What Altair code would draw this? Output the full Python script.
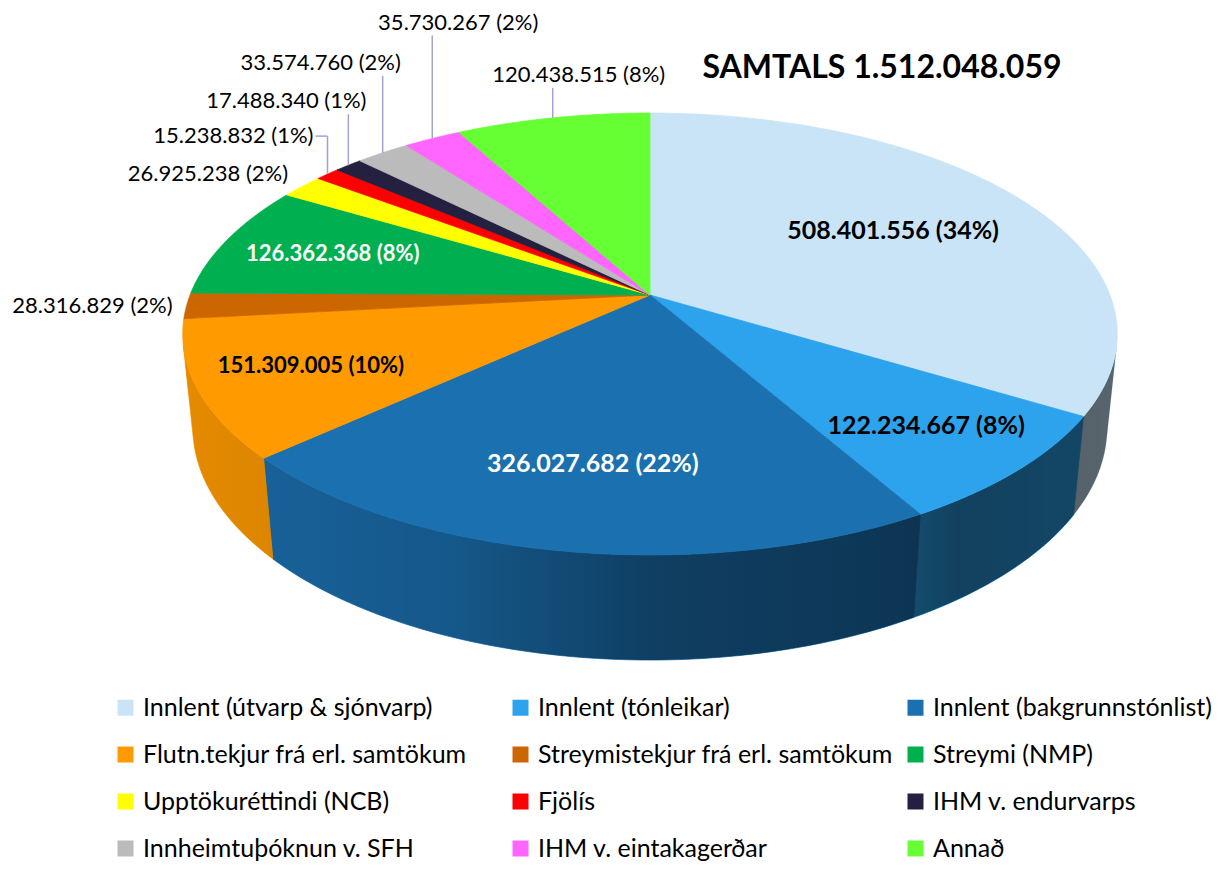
import math
import altair as alt
import pandas as pd

# ---------------- data ----------------
categories = [
    "Innlent (útvarp & sjónvarp)", "Innlent (tónleikar)", "Innlent (bakgrunnstónlist)",
    "Flutn.tekjur frá erl. samtökum", "Streymistekjur frá erl. samtökum", "Streymi (NMP)",
    "Upptökuréttindi (NCB)", "Fjölís", "IHM v. endurvarps", "Innheimtuþóknun v. SFH",
    "IHM v. eintakagerðar", "Annað",
]
values = [508401556, 122234667, 326027682, 151309005, 28316829, 126362368,
          26925238, 15238832, 17488340, 33574760, 35730267, 120438515]
colors = ["#C9E4F7", "#2CA3EC", "#1B70B0", "#FF9A00", "#CC6600", "#00B050",
          "#FFFF00", "#FF0000", "#24203F", "#BBBBBB", "#FF66FF", "#66FF33"]

total = sum(values)


def isl(n):
    return f"{n:,}".replace(",", ".")


labels = [f"{isl(v)} ({round(100 * v / total)}%)" for v in values]
title_text = f"SAMTALS {isl(total)}"

df = pd.DataFrame({"cat": categories, "value": values, "idx": list(range(len(values))), "label": labels})

# ---------------- 3D projection parameters ----------------
CX, CY, F = 650, 295, 2307          # screen centre of the pie and focal scale (px)
D, CE, SE = 5.016, 0.885, 0.4654     # camera distance, cos/sin of elevation
H = 0.232                            # pie thickness (radius units)
phi = math.acos(1 / (D * CE))
SIL0, SIL1 = math.pi - phi, math.pi + phi   # visible side silhouette angles
N = 90
M = 160

FONT = "Lato"
xs = alt.Scale(domain=[8, 1214], nice=False, zero=False)
ys = alt.Scale(domain=[8, 861], nice=False, zero=False, reverse=True)
cscale = alt.Scale(domain=categories, range=colors)

X_ENC = alt.X("px:Q", scale=xs, axis=None)
Y_ENC = alt.Y("py:Q", scale=ys, axis=None)

base = (
    alt.Chart(df)
    .transform_joinaggregate(total="sum(value)")
    .transform_window(cum="sum(value)", sort=[alt.SortField("idx")], frame=[None, 0])
    .transform_calculate(
        a0="2*PI*(datum.cum - datum.value)/datum.total",
        a1="2*PI*datum.cum/datum.total",
    )
)

legend = alt.Legend(
    title=None, orient="none", legendX=105, legendY=687, columns=3, direction="horizontal",
    symbolType="square", symbolSize=256, symbolStrokeWidth=0, labelFontSize=25,
    labelFont=FONT, labelColor="black", columnPadding=10, rowPadding=21, gridAlign="all",
    labelLimit=600, labelOffset=5, padding=0,
)

# ---------- side walls (per slice) ----------
sides = (
    base.transform_calculate(
        v0=f"max(datum.a0, {SIL0})", v1=f"min(datum.a1, {SIL1})"
    )
    .transform_filter("datum.v1 > datum.v0")
    .transform_calculate(ks=f"sequence(0, {2 * N + 2})")
    .transform_flatten(["ks"], as_=["k"])
    .transform_calculate(
        t=f"datum.k <= {N} ? datum.k/{N} : ({2 * N + 1} - datum.k)/{N}",
        hh=f"datum.k <= {N} ? 0 : {H}",
        a="datum.v0 + (datum.v1 - datum.v0)*datum.t",
        X="sin(datum.a)",
        Z="-cos(datum.a)",
        dd=f"{D} - datum.Z*{CE} + datum.hh*{SE}",
        px=f"{CX} + {F}*datum.X/datum.dd",
        py=f"{CY} + {F}*(datum.Z*{SE} + datum.hh*{CE})/datum.dd",
    )
    .mark_line(filled=True, interpolate="linear-closed", strokeWidth=0.8)
    .encode(
        x=X_ENC, y=Y_ENC, order="k:Q", detail="cat:N",
        color=alt.Color("cat:N", scale=cscale, legend=legend),
        stroke=alt.Stroke("cat:N", scale=cscale, legend=None),
    )
)

# ---------- shading of the side band ----------
shade = alt.LinearGradient(
    gradient="linear", x1=0, x2=1, y1=0, y2=0,
    stops=[
        alt.GradientStop(color="rgba(0,0,0,0.10)", offset=0),
        alt.GradientStop(color="rgba(0,0,0,0.13)", offset=0.08),
        alt.GradientStop(color="rgba(0,0,0,0.22)", offset=0.29),
        alt.GradientStop(color="rgba(0,0,0,0.44)", offset=0.5),
        alt.GradientStop(color="rgba(0,0,0,0.52)", offset=0.77),
        alt.GradientStop(color="rgba(0,0,0,0.60)", offset=0.83),
        alt.GradientStop(color="rgba(0,0,0,0.56)", offset=1),
    ],
)
overlay = (
    alt.Chart(alt.sequence(0, 2 * M + 2, as_="k"))
    .transform_calculate(
        t=f"datum.k <= {M} ? datum.k/{M} : ({2 * M + 1} - datum.k)/{M}",
        hh=f"datum.k <= {M} ? 0 : {H}",
        a=f"{SIL0} + ({SIL1} - {SIL0})*datum.t",
        X="sin(datum.a)",
        Z="-cos(datum.a)",
        dd=f"{D} - datum.Z*{CE} + datum.hh*{SE}",
        px=f"{CX} + {F}*datum.X/datum.dd",
        py=f"{CY} + {F}*(datum.Z*{SE} + datum.hh*{CE})/datum.dd",
    )
    .mark_line(filled=True, interpolate="linear-closed", fill=shade, strokeOpacity=0)
    .encode(x=X_ENC, y=Y_ENC, order="k:Q")
)

# ---------- top faces ----------
top = (
    base.transform_calculate(ks=f"sequence(0, {N + 2})")
    .transform_flatten(["ks"], as_=["k"])
    .transform_calculate(
        t=f"(datum.k - 1)/{N}",
        a="datum.a0 + (datum.a1 - datum.a0)*datum.t",
        r="datum.k == 0 ? 0 : 1",
        X="datum.r*sin(datum.a)",
        Z="-datum.r*cos(datum.a)",
        dd=f"{D} - datum.Z*{CE}",
        px=f"{CX} + {F}*datum.X/datum.dd",
        py=f"{CY} + {F}*datum.Z*{SE}/datum.dd",
    )
    .mark_line(filled=True, interpolate="linear-closed", strokeWidth=0.8)
    .encode(
        x=X_ENC, y=Y_ENC, order="k:Q", detail="cat:N",
        color=alt.Color("cat:N", scale=cscale, legend=legend),
        stroke=alt.Stroke("cat:N", scale=cscale, legend=None),
    )
)

# ---------- labels ----------
lab = base.transform_calculate(
    m="(datum.a0 + datum.a1)/2",
    X="sin(datum.m)",
    Z="-cos(datum.m)",
    dd=f"{D} - datum.Z*{CE}",
    ex=f"{CX} + {F}*datum.X/datum.dd",
    ey=f"{CY} + {F}*datum.Z*{SE}/datum.dd",
    outside="datum.value/datum.total < 0.05 || datum.idx == 11",
    rise="datum.idx == 11 ? 43 : (datum.idx >= 6 ? 12 + 26*(datum.idx - 6) : 0)",
    ly="datum.ey - datum.rise",
)

inside = lab.transform_filter("!datum.outside").transform_calculate(
    rf="datum.value/datum.total > 0.2 ? 0.66 : 0.75",
    px=f"{CX} + datum.rf*(datum.ex - {CX})",
    py=f"{CY} + datum.rf*(datum.ey - {CY})",
    fs="datum.idx <= 2 ? 25 : 22",
    dark="datum.idx == 2 || datum.idx == 5",
)
inside_black = inside.transform_filter("!datum.dark").mark_text(
    font=FONT, fontWeight="bold", color="black"
).encode(x=X_ENC, y=Y_ENC, text="label:N", size=alt.Size("fs:Q", scale=None))
inside_white = inside.transform_filter("datum.dark").mark_text(
    font=FONT, fontWeight="bold", color="white"
).encode(x=X_ENC, y=Y_ENC, text="label:N", size=alt.Size("fs:Q", scale=None))

out_right = (
    lab.transform_filter("datum.outside && datum.idx <= 7")
    .transform_calculate(px="datum.ex - 14", py="datum.ly")
    .mark_text(font=FONT, fontSize=22, align="right", color="black")
    .encode(x=X_ENC, y=Y_ENC, text="label:N")
)
out_center = (
    lab.transform_filter("datum.outside && datum.idx >= 8")
    .transform_calculate(px="datum.ex + (datum.idx <= 9 ? -62 : 26)", py="datum.ly")
    .mark_text(font=FONT, fontSize=22, align="center", color="black")
    .encode(x=X_ENC, y=Y_ENC, text="label:N")
)

LEADER = "#A3A3D3"
leaders_v = (
    lab.transform_filter("datum.outside && datum.idx >= 7")
    .transform_calculate(
        px="datum.ex", py="datum.ey",
        py2="datum.idx == 7 ? datum.ly : datum.ly + 13",
    )
    .mark_rule(color=LEADER, strokeWidth=1.5)
    .encode(x=X_ENC, y=Y_ENC, y2="py2:Q")
)
leaders_h = (
    lab.transform_filter("datum.idx == 7")
    .transform_calculate(px="datum.ex - 12", px2="datum.ex", py="datum.ly")
    .mark_rule(color=LEADER, strokeWidth=1.5)
    .encode(x=X_ENC, x2="px2:Q", y=Y_ENC)
)

title = (
    alt.Chart(pd.DataFrame({"t": [title_text]}))
    .mark_text(font=FONT, fontSize=32, fontWeight="bold", color="black")
    .encode(text="t:N", x=alt.value(874), y=alt.value(60))
)

chart = (
    alt.layer(sides, overlay, top, leaders_v, leaders_h, inside_black, inside_white,
              out_right, out_center, title)
    .properties(width=1206, height=853, padding=0, autosize="none")
    .configure_view(stroke="transparent")
)

chart.save("out.html", embed_options={"renderer": "svg", "actions": False})
